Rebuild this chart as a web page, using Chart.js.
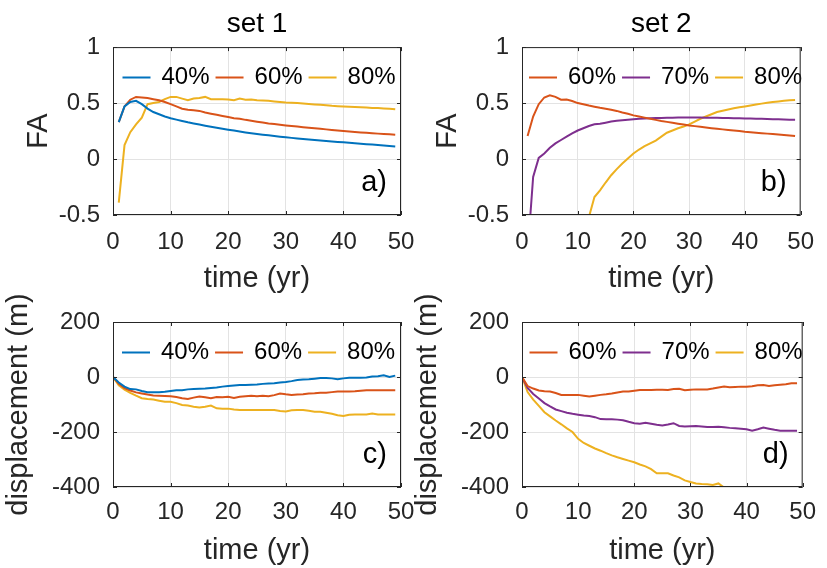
<!DOCTYPE html>
<html>
<head>
<meta charset="utf-8">
<script src="https://cdn.jsdelivr.net/npm/chart.js@4.4.0/dist/chart.umd.min.js"></script>
<style>
  html, body { margin: 0; padding: 0; background: #fff; }
  #fig { position: relative; width: 827px; height: 568px; }
  #fig canvas { position: absolute; left: 0; top: 0; }
</style>
</head>
<body>
<div id="fig">
  <canvas id="fa1" width="827" height="568"></canvas>
  <canvas id="fa2" width="827" height="568"></canvas>
  <canvas id="disp1" width="827" height="568"></canvas>
  <canvas id="disp2" width="827" height="568"></canvas>
</div>
<script>
// ---- data ----
const faYears = [1, 2, 3, 4, 5, 6, 7, 8, 9, 10, 11, 12, 13, 14, 15, 16, 17, 18, 19, 20, 21, 22, 23, 24, 25,
  26, 27, 28, 29, 30, 31, 32, 33, 34, 35, 36, 37, 38, 39, 40, 41, 42, 43, 44, 45, 46, 47, 48, 49];
const dispYears = [0, 1, 2, 3, 4, 5, 6, 7, 8, 9, 10, 11, 12, 13, 14, 15, 16, 17, 18, 19, 20, 21, 22, 23, 24, 25,
  26, 27, 28, 29, 30, 31, 32, 33, 34, 35, 36, 37, 38, 39, 40, 41, 42, 43, 44, 45, 46, 47, 48, 49];

const set1Labels = ['40%', '60%', '80%'];
const set2Labels = ['60%', '70%', '80%'];
const setTitles = ['set 1', 'set 2'];
const panelLetters = ['a)', 'b)', 'c)', 'd)'];

const timeRange = [0, 50];
const faRange = [-0.5, 1];
const dispRange = [-400, 200];

const faSet1_40 = [0.33, 0.47, 0.51, 0.52, 0.49, 0.45, 0.42, 0.40, 0.38, 0.365, 0.352, 0.34, 0.328, 0.318, 0.308,
  0.298, 0.288, 0.279, 0.27, 0.262, 0.254, 0.246, 0.238, 0.231, 0.224, 0.218, 0.212, 0.206, 0.2, 0.194,
  0.189, 0.184, 0.179, 0.174, 0.169, 0.165, 0.161, 0.157, 0.153, 0.149, 0.145, 0.141, 0.137, 0.133, 0.129,
  0.125, 0.121, 0.117, 0.113];
const faSet1_60 = [0.33, 0.47, 0.53, 0.555, 0.55, 0.545, 0.535, 0.525, 0.51, 0.49, 0.47, 0.45, 0.44, 0.435, 0.43,
  0.415, 0.405, 0.395, 0.385, 0.375, 0.365, 0.36, 0.35, 0.342, 0.334, 0.326, 0.318, 0.312, 0.306, 0.30,
  0.295, 0.29, 0.285, 0.28, 0.275, 0.27, 0.265, 0.26, 0.255, 0.25, 0.246, 0.242, 0.238, 0.234, 0.23,
  0.227, 0.224, 0.221, 0.218];
const faSet1_80 = [-0.39, 0.125, 0.24, 0.31, 0.37, 0.49, 0.50, 0.51, 0.535, 0.555, 0.555, 0.54, 0.525, 0.54, 0.545,
  0.555, 0.535, 0.535, 0.535, 0.532, 0.525, 0.54, 0.53, 0.532, 0.525, 0.522, 0.52, 0.515, 0.51, 0.505,
  0.502, 0.5, 0.497, 0.492, 0.488, 0.485, 0.48, 0.475, 0.472, 0.47, 0.468, 0.465, 0.462, 0.46, 0.457,
  0.455, 0.452, 0.45, 0.445];

const faSet2_60 = [0.205, 0.38, 0.49, 0.55, 0.57, 0.555, 0.53, 0.532, 0.518, 0.5, 0.49, 0.478, 0.468, 0.458, 0.45,
  0.44, 0.43, 0.415, 0.405, 0.39, 0.38, 0.37, 0.36, 0.35, 0.34, 0.332, 0.324, 0.316, 0.308, 0.30,
  0.294, 0.288, 0.282, 0.276, 0.27, 0.265, 0.26, 0.255, 0.25, 0.243, 0.239, 0.235, 0.231, 0.227, 0.223,
  0.219, 0.215, 0.21, 0.205];
const faSet2_70 = [-0.84, -0.16, 0.01, 0.05, 0.1, 0.14, 0.17, 0.2, 0.23, 0.255, 0.275, 0.295, 0.31, 0.315, 0.325,
  0.335, 0.342, 0.347, 0.352, 0.356, 0.36, 0.362, 0.365, 0.366, 0.367, 0.368, 0.369, 0.37, 0.37, 0.37,
  0.37, 0.37, 0.369, 0.368, 0.368, 0.367, 0.366, 0.365, 0.364, 0.363, 0.362, 0.361, 0.36, 0.358, 0.356,
  0.355, 0.353, 0.352, 0.35];
const faSet2_80 = [null, null, null, null, null, null, null, null, null, null, null, -0.52, -0.34, -0.28, -0.21,
  -0.145, -0.09, -0.04, 0.005, 0.05, 0.085, 0.115, 0.14, 0.165, 0.2, 0.235, 0.255, 0.275, 0.29, 0.31,
  0.335, 0.36, 0.38, 0.4, 0.42, 0.432, 0.443, 0.453, 0.462, 0.47, 0.478, 0.487, 0.495, 0.502, 0.509,
  0.515, 0.52, 0.525, 0.528];

const dispSet1_40 = [0, -20, -35, -44, -45, -51, -55, -55, -55, -54, -51, -48, -48, -45, -44, -43, -42, -40, -38, -35,
  -33, -31, -29, -29, -28, -27, -25, -24, -23, -20, -18, -15, -11, -9, -8, -6, -4, -4, -5, -8,
  -5, -3, -3, -3, -2, 2, 3, 6, 0, 5];
const dispSet1_60 = [0, -25, -40, -49, -56, -60, -64, -67, -68, -69, -70, -73, -77, -80, -75, -71, -74, -77, -73, -74,
  -72, -76, -72, -70, -68, -70, -68, -70, -66, -60, -63, -65, -64, -63, -60, -59, -57, -57, -55, -53,
  -53, -53, -52, -50, -48, -48, -48, -48, -48, -48];
const dispSet1_80 = [0, -30, -46, -58, -68, -77, -80, -82, -86, -90, -90, -95, -102, -104, -108, -111, -108, -104, -114, -115,
  -115, -118, -120, -120, -120, -120, -120, -120, -120, -124, -125, -121, -120, -120, -123, -126, -126, -130, -134, -139,
  -142, -137, -136, -136, -136, -133, -136, -136, -136, -136];

const dispSet2_60 = [0, -33, -42, -49, -52, -53, -58, -65, -65, -65, -65, -68, -71, -68, -65, -63, -60, -56, -53, -53,
  -50, -47, -47, -47, -46, -46, -47, -44, -43, -48, -46, -45, -45, -45, -42, -38, -35, -37, -36, -35,
  -35, -34, -30, -29, -33, -30, -28, -26, -23, -23];
const dispSet2_70 = [0, -40, -62, -78, -95, -107, -118, -124, -130, -134, -137, -140, -142, -146, -153, -154, -154, -155, -157, -163,
  -168, -170, -166, -170, -174, -176, -173, -168, -178, -180, -179, -178, -180, -182, -182, -181, -183, -185, -186, -188,
  -190, -195, -190, -184, -188, -192, -195, -195, -195, -195];
const dispSet2_80 = [0, -55, -82, -105, -128, -143, -158, -172, -187, -200, -225, -240, -250, -260, -268, -277, -285, -292, -298, -304,
  -310, -318, -325, -335, -350, -350, -350, -358, -365, -376, -382, -387, -389, -390, -393, -387, -402];

// ---- styling ----
const FONT = "'Liberation Sans', Arial, Helvetica, sans-serif";
const INK = '#262626';
const GRID = '#e3e3e3';
const lineColors = {'40%': '#0072BD', '60%': '#D95319', '70%': '#7E2F8E', '80%': '#EDB120'};

const W = 827;
const H = 568;
const Y_AXIS_W = 113;
const LEGEND_OFFSET = 11.5;

const toDataset = (label, years, values) => ({
  label: label,
  data: values.map((v, i) => ({x: years[i], y: v})),
  borderColor: lineColors[label],
  backgroundColor: lineColors[label],
  borderWidth: 2,
  pointRadius: 0,
  tension: 0,
});

// legend inside the box, frame with inward ticks + panel letter (MATLAB look)
const matlabAxes = {
  id: 'matlabAxes',
  afterLayout(chart, args, opts) {
    const {legend, chartArea} = chart;
    legend.left = chartArea.left + opts.legendInset;
    legend.right = W;
    legend.width = legend.right - legend.left;
    legend.top = chartArea.top + LEGEND_OFFSET;
    legend.bottom = legend.top + 40;
  },
  afterDatasetsDraw(chart, args, opts) {
    const {ctx, chartArea: a, scales} = chart;
    ctx.save();
    ctx.strokeStyle = INK;
    ctx.lineWidth = 1;
    ctx.strokeRect(a.left + 0.5, a.top + 0.5, a.right - a.left - 1, a.bottom - a.top - 1);
    ctx.beginPath();
    scales.x.ticks.forEach((t) => {
      const px = Math.round(scales.x.getPixelForValue(t.value)) + 0.5;
      ctx.moveTo(px, a.bottom); ctx.lineTo(px, a.bottom - 4);
      ctx.moveTo(px, a.top); ctx.lineTo(px, a.top + 4);
    });
    scales.y.ticks.forEach((t) => {
      const py = Math.round(scales.y.getPixelForValue(t.value)) + 0.5;
      ctx.moveTo(a.left, py); ctx.lineTo(a.left + 4, py);
      ctx.moveTo(a.right, py); ctx.lineTo(a.right - 4, py);
    });
    ctx.stroke();
    ctx.fillStyle = '#000';
    ctx.font = '29px ' + FONT;
    ctx.textAlign = 'right';
    ctx.textBaseline = 'alphabetic';
    ctx.fillText(opts.letter, a.right - 14, a.bottom - 24);
    ctx.restore();
  }
};

const makePanel = (canvasId, cfg) => {
  const [left, top, right, bottom] = cfg.box;
  const xAxisH = cfg.xAxisBottom - bottom;
  return new Chart(document.getElementById(canvasId), {
    type: 'line',
    data: {datasets: cfg.datasets},
    options: {
      responsive: false,
      maintainAspectRatio: false,
      animation: false,
      devicePixelRatio: 1,
      events: [],
      layout: {
        padding: {
          left: left - Y_AXIS_W,
          top: cfg.title ? 0 : top,
          right: W - right,
          bottom: H - cfg.xAxisBottom,
        }
      },
      scales: {
        x: {
          type: 'linear',
          min: timeRange[0],
          max: timeRange[1],
          ticks: {stepSize: 10, color: INK, font: {family: FONT, size: 24}, padding: cfg.xTickPad, maxRotation: 0},
          grid: {color: GRID, drawTicks: false},
          border: {display: false},
          title: {display: true, text: 'time (yr)', color: INK, font: {family: FONT, size: 29}, padding: {top: 0, bottom: cfg.xTitlePad}},
          afterFit: (scale) => { scale.height = xAxisH; },
        },
        y: {
          type: 'linear',
          min: cfg.yRange[0],
          max: cfg.yRange[1],
          ticks: {
            stepSize: cfg.yStep,
            color: INK,
            font: {family: FONT, size: 24},
            padding: 13,
            callback: (value) => String(value),
          },
          grid: {color: GRID, drawTicks: false},
          border: {display: false},
          title: {display: true, text: cfg.yLabel, color: INK, font: {family: FONT, size: 29}, padding: {top: cfg.yTitlePad, bottom: 0}},
          afterFit: (scale) => { scale.width = Y_AXIS_W; },
        }
      },
      plugins: {
        title: {
          display: !!cfg.title,
          text: cfg.title || '',
          fullSize: false,
          color: '#000',
          font: {family: FONT, size: 28, weight: 'normal'},
          padding: {top: 7.5, bottom: 6},
        },
        legend: {
          display: true,
          position: 'top',
          align: 'start',
          maxHeight: 0.001,
          labels: {
            color: '#000',
            font: {family: FONT, size: 24},
            boxWidth: 26,
            boxHeight: 0.01,
            padding: 7,
          }
        },
        tooltip: {enabled: false},
        matlabAxes: {letter: cfg.letter, legendInset: cfg.legendInset},
      }
    },
    plugins: [matlabAxes]
  });
};

makePanel('fa1', {
  box: [113, 47, 401, 215], xAxisBottom: 300, xTickPad: 13, xTitlePad: 3.6,
  yRange: faRange, yStep: 0.5, yLabel: 'FA', yTitlePad: 21.3,
  title: setTitles[0], letter: panelLetters[0], legendInset: 3.5,
  datasets: [
    toDataset(set1Labels[0], faYears, faSet1_40),
    toDataset(set1Labels[1], faYears, faSet1_60),
    toDataset(set1Labels[2], faYears, faSet1_80),
  ],
});

makePanel('fa2', {
  box: [522, 47, 811, 215], xAxisBottom: 300, xTickPad: 13, xTitlePad: 3.6,
  yRange: faRange, yStep: 0.5, yLabel: 'FA', yTitlePad: 21.3,
  title: setTitles[1], letter: panelLetters[1], legendInset: 1,
  datasets: [
    toDataset(set2Labels[0], faYears, faSet2_60),
    toDataset(set2Labels[1], faYears, faSet2_70),
    toDataset(set2Labels[2], faYears, faSet2_80),
  ],
});

makePanel('disp1', {
  box: [113, 322, 401, 487], xAxisBottom: 568, xTickPad: 11, xTitlePad: 0,
  yRange: dispRange, yStep: 200, yLabel: 'displacement (m)', yTitlePad: 2,
  title: null, letter: panelLetters[2], legendInset: 3,
  datasets: [
    toDataset(set1Labels[0], dispYears, dispSet1_40),
    toDataset(set1Labels[1], dispYears, dispSet1_60),
    toDataset(set1Labels[2], dispYears, dispSet1_80),
  ],
});

makePanel('disp2', {
  box: [522, 322, 811, 487], xAxisBottom: 568, xTickPad: 11, xTitlePad: 0,
  yRange: dispRange, yStep: 200, yLabel: 'displacement (m)', yTitlePad: 2,
  title: null, letter: panelLetters[3], legendInset: 1.5,
  datasets: [
    toDataset(set2Labels[0], dispYears, dispSet2_60),
    toDataset(set2Labels[1], dispYears, dispSet2_70),
    toDataset(set2Labels[2], dispYears, dispSet2_80),
  ],
});
</script>
</body>
</html>
